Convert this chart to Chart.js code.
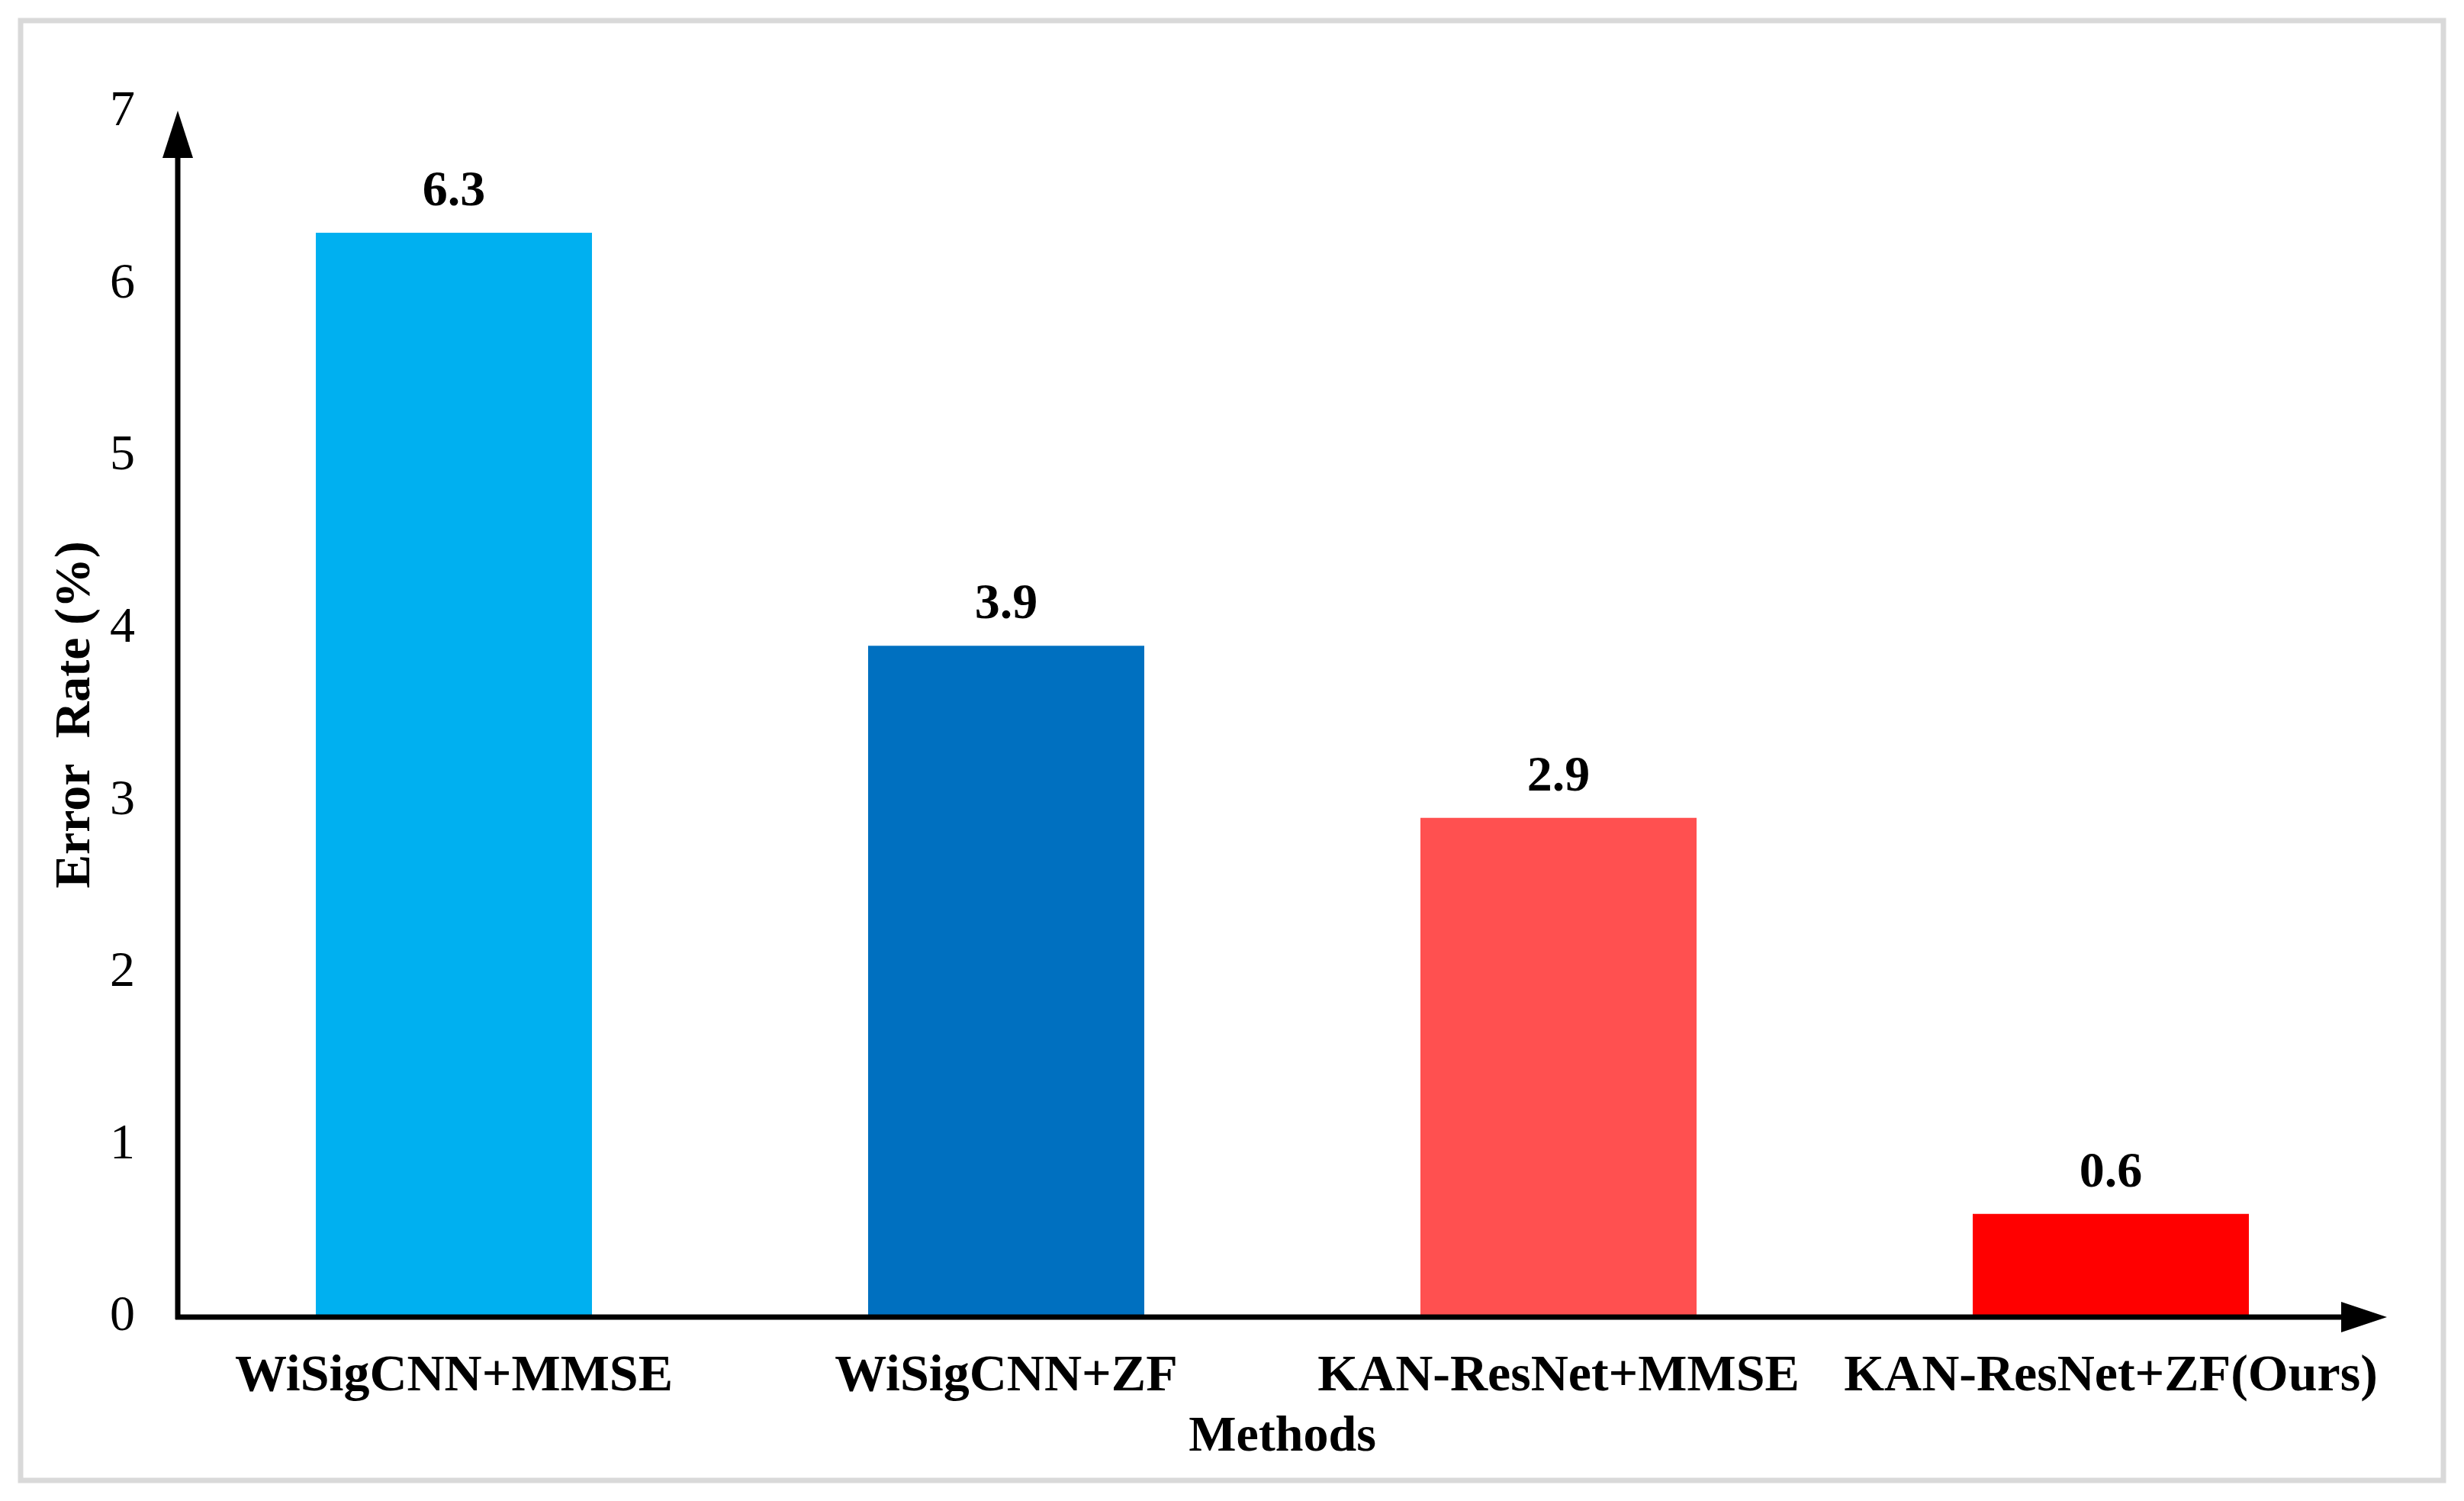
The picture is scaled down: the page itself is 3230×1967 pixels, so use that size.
<!DOCTYPE html>
<html>
<head>
<meta charset="utf-8">
<script src="https://cdn.jsdelivr.net/npm/chart.js@4.4.0/dist/chart.umd.min.js"></script>
<style>
  html, body { margin: 0; padding: 0; background: #fff; }
</style>
</head>
<body>
<canvas id="grafica" width="3230" height="1967"></canvas>
<script>
// datos de la gráfica
const metodos = ['WiSigCNN+MMSE', 'WiSigCNN+ZF', 'KAN-ResNet+MMSE', 'KAN-ResNet+ZF(Ours)']
const errores = [6.3, 3.9, 2.9, 0.6]
const colores = ['#00B0F0', '#0070C0', '#FF5050', '#FF0000']
const ticksY = [0, 1, 2, 3, 4, 5, 6, 7]

const fuente = '"Liberation Serif", "Times New Roman", serif'

// marco gris alrededor de la figura
const marco = {
  id: 'marco',
  beforeDraw(chart) {
    const ctx = chart.ctx
    ctx.save()
    ctx.fillStyle = '#fff'
    ctx.fillRect(0, 0, chart.width, chart.height)
    ctx.strokeStyle = '#d9d9d9'
    ctx.lineWidth = 7
    ctx.strokeRect(27, 27, 3176, 1913)
    ctx.restore()
  }
}

// ejes con flechas
const ejes = {
  id: 'ejes',
  afterDatasetsDraw(chart) {
    const { ctx, chartArea } = chart
    const x0 = chart.scales.x.left
    const y0 = chart.scales.y.getPixelForValue(0)
    ctx.save()
    ctx.strokeStyle = '#000'
    ctx.fillStyle = '#000'
    ctx.lineWidth = 7
    ctx.beginPath()
    ctx.moveTo(x0, y0 + 3)
    ctx.lineTo(x0, chartArea.top + 40)
    ctx.moveTo(x0 - 3, y0)
    ctx.lineTo(chartArea.right - 40, y0)
    ctx.stroke()
    // punta vertical
    ctx.beginPath()
    ctx.moveTo(x0, chartArea.top - 2)
    ctx.lineTo(x0 - 20, chartArea.top + 60)
    ctx.lineTo(x0 + 20, chartArea.top + 60)
    ctx.closePath()
    ctx.fill()
    // punta horizontal
    ctx.beginPath()
    ctx.moveTo(chartArea.right, y0)
    ctx.lineTo(chartArea.right - 60, y0 - 20)
    ctx.lineTo(chartArea.right - 60, y0 + 20)
    ctx.closePath()
    ctx.fill()
    ctx.restore()
  }
}

// valores encima de cada barra
const etiquetas = {
  id: 'etiquetas',
  afterDatasetsDraw(chart) {
    const ctx = chart.ctx
    const meta = chart.getDatasetMeta(0)
    ctx.save()
    ctx.fillStyle = '#000'
    ctx.font = 'bold 66px ' + fuente
    ctx.textAlign = 'center'
    ctx.textBaseline = 'bottom'
    meta.data.forEach((barra, i) => {
      ctx.fillText(errores[i].toFixed(1), barra.x, barra.y - 20)
    })
    ctx.restore()
  }
}

new Chart(document.getElementById('grafica'), {
  type: 'bar',
  data: {
    labels: metodos,
    datasets: [{
      data: errores,
      backgroundColor: colores,
      borderWidth: 0,
      barPercentage: 0.5,
      categoryPercentage: 1.0
    }]
  },
  options: {
    responsive: false,
    animation: false,
    devicePixelRatio: 1,
    layout: { padding: { left: 60, top: 147, right: 101, bottom: 41 } },
    plugins: {
      legend: { display: false },
      tooltip: { enabled: false }
    },
    scales: {
      x: {
        grid: { display: false, drawTicks: false },
        border: { display: false },
        ticks: {
          color: '#000',
          padding: 38,
          maxRotation: 0,
          autoSkip: false,
          font: { family: fuente, size: 68, weight: 'bold' }
        },
        title: {
          display: true,
          text: 'Methods',
          color: '#000',
          padding: { top: 0, bottom: 2 },
          font: { family: fuente, size: 66, weight: 'bold' }
        },
        afterFit(scale) { scale.height = 200 }
      },
      y: {
        min: 0,
        max: 7,
        afterBuildTicks(scale) { scale.ticks = ticksY.map(v => ({ value: v })) },
        grid: { display: false, drawTicks: false },
        border: { display: false },
        ticks: {
          color: '#000',
          padding: 56,
          font: { family: fuente, size: 66 }
        },
        title: {
          display: true,
          text: 'Error  Rate (%)',
          color: '#000',
          padding: 0,
          font: { family: fuente, size: 66, weight: 'bold' }
        },
        afterFit(scale) { scale.width = 173 }
      }
    }
  },
  plugins: [marco, ejes, etiquetas]
})
</script>
</body>
</html>
